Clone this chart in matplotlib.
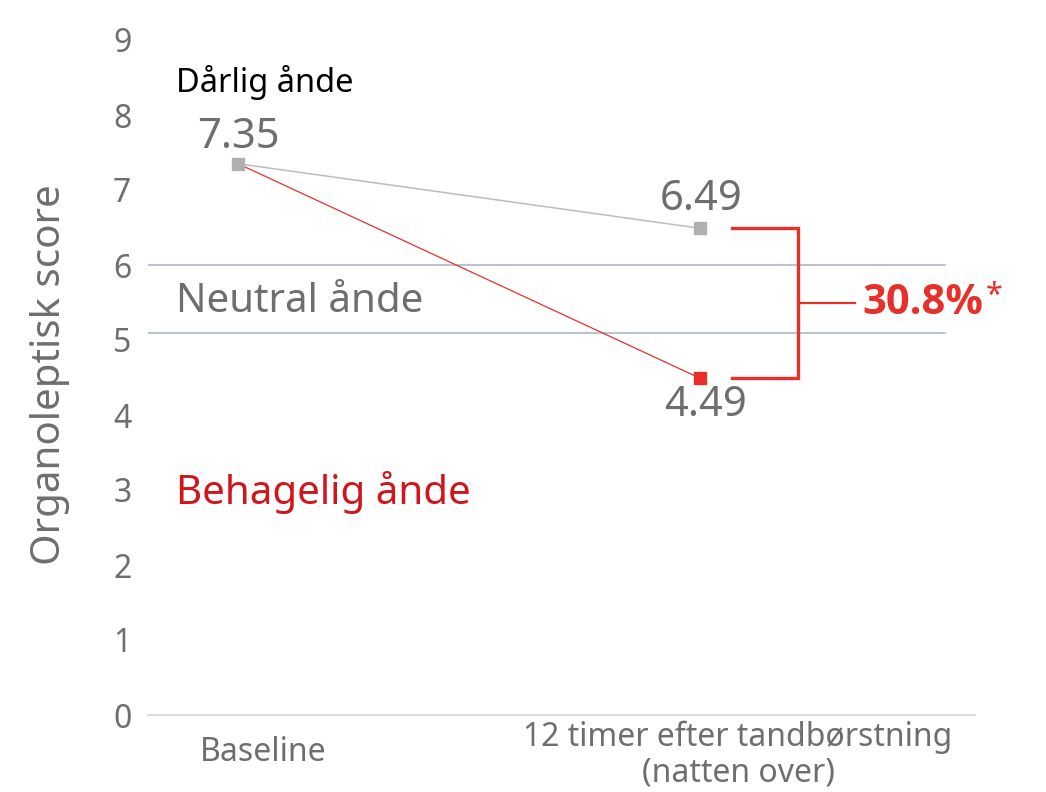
import matplotlib
matplotlib.use("Agg")
import matplotlib.pyplot as plt

categories = ["Baseline", "12 timer efter tandbørstning\n(natten over)"]
control_values = [7.35, 6.49]
product_values = [7.35, 4.49]
band_lines = [6.0, 5.1]
yticks = list(range(0, 10))
reduction_label = "30.8%"

plt.rcParams['font.family'] = ['Noto Sans', 'DejaVu Sans']
GREY = "#6e6e6e"
RED = "#e8302a"

fig = plt.figure(figsize=(10.46, 7.92), dpi=100)
ax = fig.add_axes([148/1046, 1-715/792, (975-148)/1046, (715-40)/792])
x = [0, 1]
ax.set_xlim(-0.195, 1.595)
ax.set_ylim(0, 9)

for y in band_lines:
    ax.plot([-0.195, (945-238)/462], [y, y], color="#9fb4cc", lw=1.1, zorder=1)

ax.plot(x, control_values, color="#bdbdbd", lw=1.1, zorder=2)
ax.plot(x, product_values, color=RED, lw=0.9, zorder=2)
ax.plot(x[0], control_values[0], 's', color="#b0b0b0", ms=9, zorder=4)
ax.plot(x[1], control_values[1], 's', color="#b0b0b0", ms=8, zorder=4)
ax.plot(x[1], product_values[1], 's', color=RED, ms=8, zorder=4)

ax.annotate(f"{control_values[0]:.2f}", (x[0], control_values[0]), xytext=(0, 4),
            textcoords="offset points", ha="center", va="bottom", fontsize=30, color=GREY)
ax.annotate(f"{control_values[1]:.2f}", (x[1], control_values[1]), xytext=(1, 6),
            textcoords="offset points", ha="center", va="bottom", fontsize=30, color=GREY)
ax.annotate(f"{product_values[1]:.2f}", (x[1], product_values[1]), xytext=(4, -4),
            textcoords="offset points", ha="center", va="top", fontsize=30, color=GREY)

# bracket
xb0, xb1, xb2 = (732-238)/462, (798-238)/462, (855-238)/462
ax.plot([xb0, xb1, xb1, xb0], [control_values[1], control_values[1], product_values[1], product_values[1]],
        color=RED, lw=2.4, solid_joinstyle="miter", zorder=3)
mid = (control_values[1] + product_values[1]) / 2
ax.plot([xb1, xb2], [mid, mid], color=RED, lw=1.6, zorder=3)
t = ax.text((862-238)/462, mid, reduction_label, fontsize=30, fontweight="bold",
            family=["Open Sans", "DejaVu Sans"], color=RED, ha="left", va="center")
ax.annotate("*", xy=(1, 0.5), xycoords=t, xytext=(2, 5), textcoords="offset points",
            fontsize=22, color=RED, ha="left", va="center")

lx = (176-238)/462
ax.text(lx, 8.43, "Dårlig ånde", fontsize=23.5, color="black", ha="left", va="center")
ax.text(lx, 5.5, "Neutral ånde", fontsize=29, color=GREY, ha="left", va="center")
ax.text(lx, 2.97, "Behagelig ånde", fontsize=29, color="#d0161c", ha="left", va="center")

ax.set_yticks(yticks)
ax.set_yticklabels([str(v) for v in yticks], fontsize=23, color=GREY)
ax.set_xticks([])
ax.tick_params(axis="both", length=0)
ax.tick_params(axis="y", pad=12)

# category labels
cat_x = [(263-238)/462, (738-238)/462]
ax.text(cat_x[0], -0.5, categories[0], fontsize=23, color=GREY, ha="center", va="center")
ax.text(cat_x[1], -0.54, categories[1], fontsize=23, color=GREY, ha="center", va="center",
        linespacing=1.1)

ax.set_ylabel("Organoleptisk score", fontsize=29, color=GREY)
ax.yaxis.set_label_coords(-0.094, 0.504)

for s in ["top", "right", "left"]:
    ax.spines[s].set_visible(False)
ax.spines["bottom"].set_color("#d4d4d4")
ax.spines["bottom"].set_linewidth(1.2)

fig.savefig("out.png", dpi=100)
